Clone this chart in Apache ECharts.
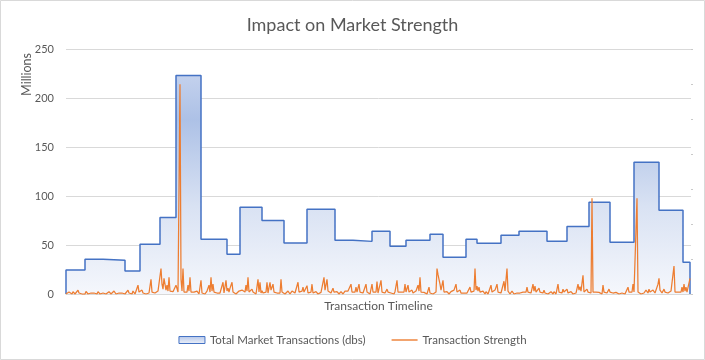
<!DOCTYPE html>
<html>
<head>
<meta charset="utf-8">
<script src="https://cdn.jsdelivr.net/npm/echarts@6/dist/echarts.min.js"></script>
<style>
html,body{margin:0;padding:0;background:#fff;}
#c{width:705px;height:360px;}
</style>
</head>
<body>
<div id="c"></div>
<script>
// ---- Data ----
var chartTitle = 'Impact on Market Strength';
var yTicks = [0, 50, 100, 150, 200, 250];
var seriesNames = ['Total Market Transactions (dbs)', 'Transaction Strength'];
// Total market transactions: period start (timeline index) and level (millions)
var periodStart = [0, 19, 37, 59, 74, 94, 110, 135, 161, 174, 196, 218, 241, 269, 287, 306, 324, 340, 364, 377, 400, 411, 435, 453, 481, 501, 523, 544, 568, 593, 617];
var periodTotal = [24.5, 35.4, 34.4, 23.5, 50.7, 78, 223, 55.8, 40.5, 88.4, 75, 52, 86.4, 54.8, 53.7, 64, 48.6, 54.8, 60.9, 37.4, 55.8, 51.7, 59.9, 64, 53.7, 69, 93.5, 52.7, 134.4, 85.4, 32.3];
var timelineEnd = 624;
// Transaction strength per timeline step (0..624)
var strength = [
0,1,0,2,0,1,0,2.4,1,0,0,1,4,1,0,1,0,0,1,0,2.7,1,0,1,0,
1,0,3,1,0,1,0,2.4,1,0,1,0,1,3,1,0,1,0,2.4,1,0,0,1,3,1,
0,1,0,1,0,2.4,1,0,1,0,0,1,4,1,0,1,0,3,1,0,0,1,9,2,0,
1,4,1,0,1,0,1,0,1,2,15,2,1,0,1,2,1,3,2,4,26,10,5,16,17,
4,9,3,17,3,1,2,2.4,1,2,9,7,2,1,214,15,3,26,2,3,1,2,9,3,17,
2,4,1,2,3,1,3,1,0,1,14,1,0,1,0,1,3,1,9,2,17,3,10,2,1,
0,1,2.4,0,1,0,1,12,1,2,14,3,6,2,6,9,12,2,1,1.7,0,1,0,3,1,
1,4,2,3,2,9,3,17,2,3,1,5,2,1,1.7,0,1,15,2,12,1,3.4,1,0,1,
2,12,1,2,12,4,3,10,2,1,0,1,0,3,1,15,2,4,1,0,1,0,3,1,0,
1,3,1,3,1,0,1,12,2,3,4,3,7,2,1,2,8.5,1,0,1,2,10,1,0,1,
2.4,1,0,1,0,1.7,1,3,17,4,2,15,3,1,3,1,2,6,2,1,0,2.4,1,0,1,
2.4,1,0,1,3,1,2,3,1,2,10,2,1,3,2,7,2,1,10,2,1,4,1,0,2,
10,2,3,1,0,2,10,2,1,0,2,12.6,1,0,1,14,2,1,0,1,2,5,2,1,0,
1,0,1,0,2.4,1,14,2,4,1,2,1,3,2,10,2,3,9,2,1,2,4,1,0,1,
3,1,9,3,17,2,1,0,1.7,0,1,0,1,7,1,0,1.7,0,1,0,2,26,20,15,10,
4,3,14,2,1,0,2.4,1,0,1,2.4,1,2,4,3,10,2,1,2,4,1,1.7,0,1,0,
3,1,0,1,7,2,1,4,3,26,4,8,3,7,2,1,0,3,1,0,2.4,1,0,1,2,
9,2,1,2,4,2,10,2,1,0,1,3,2,13,3,2,26,3,1,0,1,3,1,0,1,
0,1,1.7,0,1,0,1,2,4,1,2,7,2,1,2.4,1,2,10,3,8,2,1,2,6,2,
1,0,1,4,1,0,1,0,1,0,2.4,1,0,2.4,1,0,2,10,2,1,0,1,5,2,1,
2,5,1,0,1,2.4,1,0,1,0,1,2,10,4,7.5,3,2,19,2,3,1,5,2,1,0,
1,97.6,2,2.4,1,2,1,0,1.7,0,1,0,9,2,1,2.4,1,2,5,2,1,2.4,1,0,1,
1.7,0,1,0,1,0,1,3,1,0,1,2,7,2,3,1,2,10,2,1,2,97.6,2,3,1,
0,1,0,1,2,4,2,1,5,2,1,2,4,2,1,3,7,10,16,4,2,1,2,5,2,
1,4,1,0,1,3,1,2,28.6,2,1,4,2,1,3,2,7,2,10,3,7,2,3,2,16
];

// ---- Build series data ----
var totalData = [[periodStart[0], 0]];
for (var i = 0; i < periodStart.length; i++) totalData.push([periodStart[i], periodTotal[i]]);
totalData.push([timelineEnd, 0]);
var strengthData = strength.map(function (v, i) { return [i, v]; });

var font = 'Lato, "Open Sans", sans-serif';
var chart = echarts.init(document.getElementById('c'), null, {renderer: 'canvas'});
chart.setOption({
  animation: false,
  backgroundColor: '#ffffff',
  textStyle: {fontFamily: font, color: '#595959'},
  title: {
    text: chartTitle, left: 'center', top: 11,
    textStyle: {fontFamily: font, fontSize: 18, fontWeight: 'normal', color: '#595959'}
  },
  grid: {left: 66, right: 14, top: 49, bottom: 66, containLabel: false},
  legend: {
    bottom: 9, left: 'center', itemGap: 26, itemWidth: 26, itemHeight: 7,
    textStyle: {fontFamily: font, fontSize: 11.5, color: '#595959'},
    data: [
      {name: seriesNames[0], icon: 'rect',
       itemStyle: {color: new echarts.graphic.LinearGradient(0,0,0,1,[{offset:0,color:'#b4c6e9'},{offset:1,color:'#eef2fa'}]), borderColor: '#4472c4', borderWidth: 1}},
      {name: seriesNames[1], icon: 'path://M0,0H26V1.4H0Z',
       itemStyle: {color: '#ed7d31', borderWidth: 0}}
    ]
  },
  xAxis: {
    type: 'value', min: 0, max: 625,
    name: 'Transaction Timeline', nameLocation: 'middle', nameGap: 6,
    nameTextStyle: {fontFamily: font, fontSize: 12, color: '#595959'},
    axisLine: {show: true, lineStyle: {color: '#d9d9d9'}},
    axisTick: {show: false}, axisLabel: {show: false}, splitLine: {show: false}
  },
  yAxis: [{
    type: 'value', min: yTicks[0], max: yTicks[yTicks.length - 1], interval: 50,
    axisLine: {show: false}, axisTick: {show: false},
    axisLabel: {fontFamily: font, fontSize: 11, color: '#595959', margin: 12},
    splitLine: {lineStyle: {color: '#d9d9d9', width: 1}}
  }, {
    type: 'value', min: 0, max: 7, interval: 1, position: 'right',
    axisLine: {show: false}, axisLabel: {show: false}, splitLine: {show: false},
    axisTick: {show: true, length: 2, lineStyle: {color: '#c9c9c9'}}
  }],
  graphic: [
    {type: 'text', left: 20, top: 53, rotation: Math.PI / 2,
     style: {text: 'Millions', font: '12.5px ' + font, fill: '#595959'}},
    {type: 'rect', shape: {x: 0.5, y: 0.5, width: 704, height: 359}, silent: true,
     style: {fill: 'none', stroke: '#d9d9d9', lineWidth: 1}, z: -1}
  ],
  series: [{
    name: seriesNames[0], type: 'line', step: 'end', symbol: 'none', data: totalData,
    lineStyle: {color: '#4472c4', width: 1.5},
    itemStyle: {color: '#4472c4'},
    areaStyle: {opacity: 1, color: new echarts.graphic.LinearGradient(0, 0, 0, 1, [
      {offset: 0, color: '#c3d1ed'}, {offset: 0.2, color: '#adc1e6'},
      {offset: 0.6, color: '#d9e2f3'}, {offset: 1, color: '#f5f7fc'}])},
    z: 2
  }, {
    name: seriesNames[1], type: 'line', symbol: 'none', data: strengthData,
    lineStyle: {color: '#ed7d31', width: 1.25},
    itemStyle: {color: '#ed7d31'},
    z: 3
  }]
});
</script>
</body>
</html>
